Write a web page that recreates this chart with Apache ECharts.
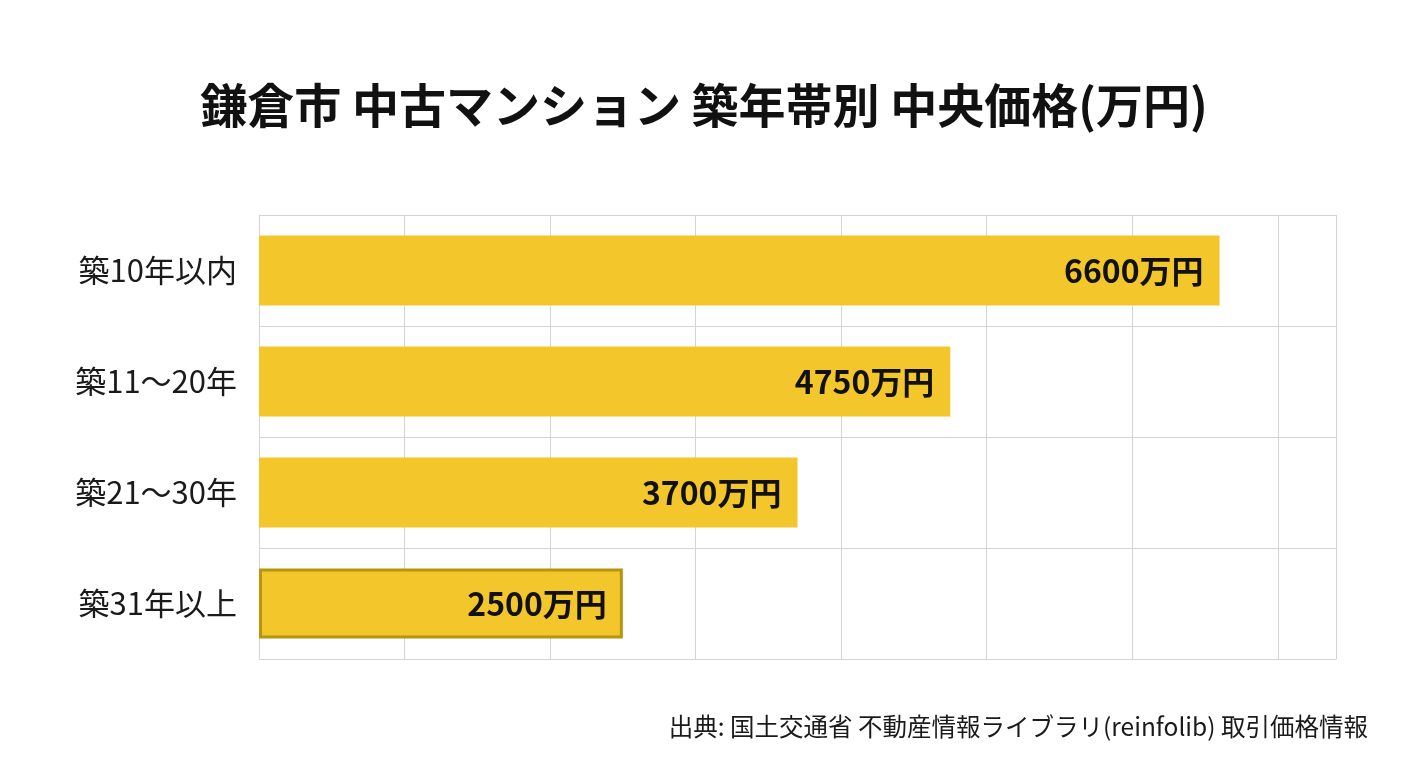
<!DOCTYPE html>
<html>
<head>
<meta charset="utf-8">
<script src="https://cdn.jsdelivr.net/npm/echarts@6/dist/echarts.min.js"></script>
<style>
html,body{margin:0;padding:0;background:#fff;}
#chart{width:1408px;height:768px;}
</style>
</head>
<body>
<div id="chart"></div>
<script>
const titleText = '鎌倉市 中古マンション 築年帯別 中央価格(万円)';
const sourceText = '出典: 国土交通省 不動産情報ライブラリ(reinfolib) 取引価格情報';
const categories = ['築10年以内', '築11〜20年', '築21〜30年', '築31年以上'];
const values = [6600, 4750, 3700, 2500];
const highlightIndex = 3;

const FONT = '"Noto Sans CJK JP", "Noto Sans", sans-serif';
const chart = echarts.init(document.getElementById('chart'));

const data = values.map((v, i) => ({
  value: v,
  itemStyle: i === highlightIndex ? { borderColor: '#b8940f', borderWidth: 3 } : {}
}));

chart.setOption({
  backgroundColor: '#ffffff',
  title: {
    text: titleText,
    left: 'center',
    top: 77,
    textStyle: { fontFamily: FONT, fontSize: 47, fontWeight: 'bold', color: '#111111' }
  },
  graphic: [{
    type: 'text',
    right: 40,
    top: 714,
    style: { text: sourceText, font: '24.5px ' + FONT, fill: '#1a1a1a' }
  }],
  grid: { left: 259, right: 72, top: 215, bottom: 109, containLabel: false },
  xAxis: {
    type: 'value',
    min: 0,
    max: 7400,
    interval: 1000,
    axisLabel: { show: false },
    axisTick: { show: false },
    axisLine: { show: true, lineStyle: { color: '#d4d4d4' } },
    splitLine: { show: true, lineStyle: { color: '#d4d4d4', width: 1 } }
  },
  yAxis: {
    type: 'category',
    data: categories,
    inverse: true,
    axisTick: { show: false },
    axisLine: { show: true, lineStyle: { color: '#d4d4d4' } },
    splitLine: { show: true, lineStyle: { color: '#d4d4d4', width: 1 } },
    axisLabel: { fontFamily: FONT, fontSize: 31, color: '#1a1a1a', margin: 22 }
  },
  series: [{
    type: 'bar',
    data: data,
    barWidth: '63%',
    itemStyle: { color: '#f3c62b' },
    label: {
      show: true,
      position: 'insideRight',
      distance: 16,
      formatter: p => p.value + '万円',
      fontFamily: FONT,
      fontSize: 32,
      fontWeight: 'bold',
      color: '#111111'
    },
    animation: false
  }],
  animation: false
});
</script>
</body>
</html>
